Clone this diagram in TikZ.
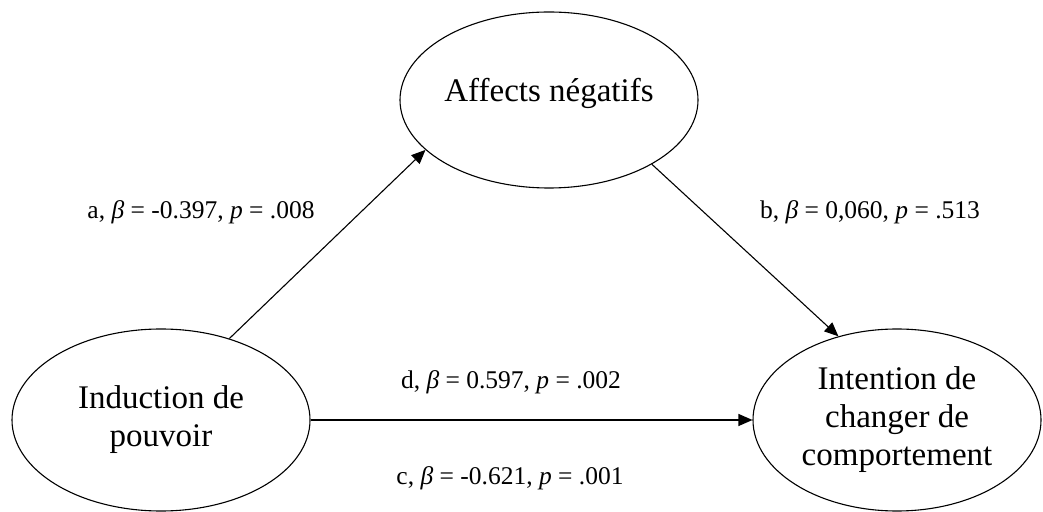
\documentclass[tikz,border=0pt]{standalone}
\usepackage{fontspec}
\setmainfont{Liberation Serif}
\usepackage{tikz}
\usetikzlibrary{arrows.meta,shapes.geometric}
\tikzset{
  var/.style={ellipse, draw=black, fill=white, line width=1.1pt, align=center, inner sep=0pt,
              font=\fontsize{33}{38}\selectfont},
  coef/.style={font=\fontsize{25.5}{28}\selectfont, text=black, inner sep=0pt},
  path/.style={-{Triangle[length=14pt,width=12pt]}, draw=black, line width=1.1pt}
}

\begin{document}
\begin{tikzpicture}[x=1pt, y=1pt]
  \useasboundingbox (0,0) rectangle (1043,511);
  \node[var, minimum width=298pt, minimum height=176pt, text depth=20pt] (aff) at (549,411) {Affects négatifs};
  \node[var, minimum width=298pt, minimum height=182pt] (ind) at (161,91) {Induction de\\pouvoir};
  \node[var, minimum width=288pt, minimum height=182pt] (int) at (897,91) {Intention de\\changer de\\comportement};
  \draw[path] (ind.50)--(aff.202);
  \draw[path] (aff.328)--(int.125);
  \draw[path] (ind.east)--(int.west);
  % coefficients
  \node[coef] (ca) at (201,299) {a, \textit{β} = -0.397, \textit{p} = .008};
  \node[coef] (cb) at (870,299) {b, \textit{β} = 0,060, \textit{p} = .513};
  \node[coef] (cd) at (511,129) {d, \textit{β} = 0.597, \textit{p} = .002};
  \node[coef] (cc) at (510,33) {c, \textit{β} = -0.621, \textit{p} = .001};
\end{tikzpicture}
\end{document}
